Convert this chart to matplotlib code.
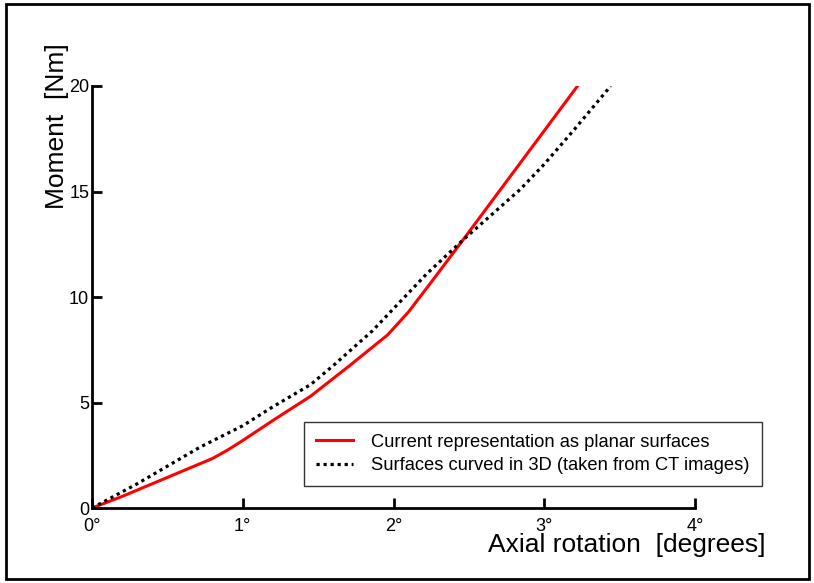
import matplotlib.pyplot as plt
from matplotlib.patches import Rectangle

plt.rcParams['font.family'] = ['Liberation Sans', 'DejaVu Sans']

# values
planar_x = [0.0, 0.2, 0.4, 0.6, 0.8, 0.9, 1.0, 1.2, 1.45, 1.7, 1.96, 2.1, 2.26, 2.46, 3.22]
planar_y = [0.0, 0.55, 1.15, 1.75, 2.35, 2.75, 3.2, 4.15, 5.3, 6.7, 8.2, 9.3, 10.8, 12.7, 20.0]
curved_x = [0.0, 0.3, 0.72, 1.0, 1.2, 1.45, 1.6, 1.86, 2.0, 2.22, 2.46, 2.65, 2.84, 3.0, 3.2, 3.44]
curved_y = [0.0, 1.15, 2.9, 3.9, 4.8, 5.85, 6.75, 8.4, 9.45, 11.1, 12.7, 13.9, 15.1, 16.3, 17.95, 20.0]

x_ticks = [0, 1, 2, 3, 4]
x_labels = ['0°', '1°', '2°', '3°', '4°']
y_ticks = [0, 5, 10, 15, 20]

fig = plt.figure(figsize=(8.14, 5.83), dpi=100)
fig.patches.append(Rectangle((0.007, 0.007), 0.987, 0.986, transform=fig.transFigure,
                             fill=False, edgecolor='black', linewidth=2))

ax = fig.add_axes([0.113, 0.1286, 0.741, 0.7239])
ax.plot(planar_x, planar_y, color='red', linewidth=2.2,
        label='Current representation as planar surfaces')
ax.plot(curved_x, curved_y, color='black', linewidth=2.3, linestyle=(0, (1, 1.2)),
        label='Surfaces curved in 3D (taken from CT images)')

ax.set_xlim(0, 4)
ax.set_ylim(0, 20)
ax.set_xticks(x_ticks)
ax.set_xticklabels(x_labels)
ax.set_yticks(y_ticks)
for s in ['top', 'right']:
    ax.spines[s].set_visible(False)
for s in ['left', 'bottom']:
    ax.spines[s].set_linewidth(2)
ax.tick_params(direction='in', length=7, width=2, labelsize=13)
ax.tick_params(axis='x', pad=7)
ax.tick_params(axis='y', pad=2)

fig.text(0.94, 0.065, 'Axial rotation  [degrees]', fontsize=19, ha='right', va='center')
fig.text(0.07, 0.925, 'Moment  [Nm]', fontsize=19, rotation=90, ha='center', va='top')

leg = ax.legend(loc='lower left', bbox_to_anchor=(0.352, 0.052), borderaxespad=0,
                fontsize=13.2, frameon=True, fancybox=False, edgecolor='black',
                handlelength=2.0, handletextpad=1.0, borderpad=0.65, labelspacing=0.35)
leg.get_frame().set_linewidth(1)

fig.savefig('out.png', dpi=100)
